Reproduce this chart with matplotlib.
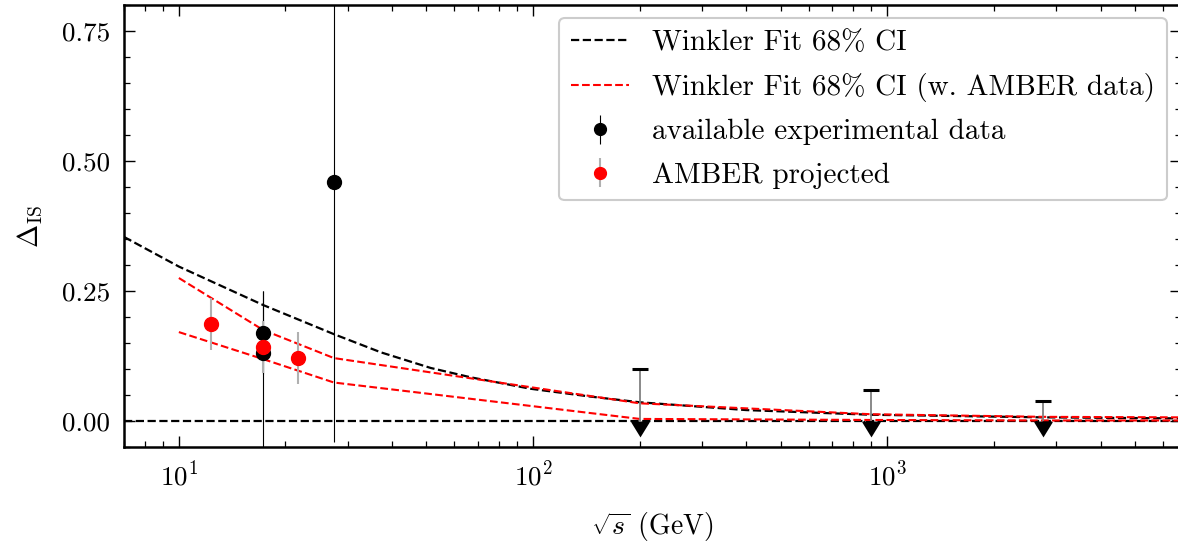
import numpy as np
import matplotlib
matplotlib.use('Agg')
import matplotlib.pyplot as plt
from matplotlib.ticker import MultipleLocator, LogLocator, NullFormatter

plt.rcParams['font.family'] = ['cmr10', 'DejaVu Serif']
plt.rcParams['mathtext.fontset'] = 'cm'
plt.rcParams['axes.formatter.use_mathtext'] = True
plt.rcParams['axes.unicode_minus'] = False

# Winkler fit 68% CI (existing data)
fit_x = [7, 10, 17.3, 27.4, 37.2, 51.4, 66.7, 98.4, 145, 200, 400, 900, 2760, 6750]
fit_hi = [0.354, 0.297, 0.223, 0.167, 0.132, 0.102, 0.084, 0.062, 0.047, 0.036,
          0.021, 0.012, 0.007, 0.005]
fit_lo = [0, 0, 0, 0, 0, 0, 0, 0, 0, 0, 0, 0, 0, 0]

# Winkler fit 68% CI with AMBER data
amb_fit_x = [10, 17.3, 27.4, 200, 900, 2760, 6750]
amb_fit_hi = [0.275, 0.175, 0.121, 0.034, 0.013, 0.008, 0.007]
amb_fit_lo = [0.171, 0.119, 0.074, 0.004, 0.002, 0.001, 0.001]

# available experimental data
exp_x = [17.3, 17.3, 27.4]
exp_y = [0.17, 0.13, 0.459]
exp_err_lo = [0.08, 0.25, 0.50]
exp_err_hi = [0.08, 0.12, 0.50]

# upper limits
lim_x = [200, 900, 2760]
lim_val = [0.10, 0.06, 0.038]

# AMBER projected
amber_x = [12.3, 17.3, 21.7]
amber_y = [0.187, 0.143, 0.121]
amber_err = [0.05, 0.05, 0.05]


def main():
    fig = plt.figure(figsize=(11.78, 5.44), dpi=100)
    ax = fig.add_axes([124 / 1178, 97 / 544, 1057 / 1178, 442 / 544])

    ax.plot(fit_x, fit_hi, '--', color='k', lw=1.6, label='Winkler Fit 68% CI')
    ax.plot(fit_x, fit_lo, '--', color='k', lw=1.6)
    ax.plot(amb_fit_x, amb_fit_hi, '--', color='red', lw=1.5,
            label='Winkler Fit 68% CI (w. AMBER data)')
    ax.plot(amb_fit_x, amb_fit_lo, '--', color='red', lw=1.5)

    ax.errorbar(exp_x, exp_y, yerr=[exp_err_lo, exp_err_hi], fmt='o', color='k',
                ecolor='k', elinewidth=0.8, ms=10, label='available experimental data')

    # upper limits: bar from 0 to the limit, caret at 0, cap at the limit
    ul = ax.errorbar(lim_x, lim_val, yerr=lim_val, uplims=True, fmt='none',
                     ecolor='grey', elinewidth=1.3, capsize=6, capthick=2.2)
    for cap in ul[1]:
        cap.set_color('k')
        cap.set_markeredgecolor('k')
        cap.set_markerfacecolor('k')

    ax.errorbar(amber_x, amber_y, yerr=amber_err, fmt='o', color='red',
                ecolor='#b0b0b0', elinewidth=1.5, ms=10, label='AMBER projected')

    ax.set_xscale('log')
    ax.set_xlim(7, 6750)
    ax.set_ylim(-0.05, 0.80)
    ax.yaxis.set_major_locator(MultipleLocator(0.25))
    ax.yaxis.set_minor_locator(MultipleLocator(0.05))
    ax.yaxis.set_major_formatter(plt.FormatStrFormatter('%.2f'))
    ax.xaxis.set_minor_locator(LogLocator(base=10, subs=np.arange(2, 10)))
    ax.xaxis.set_minor_formatter(NullFormatter())

    ax.tick_params(which='both', direction='in', top=True, right=True, labelsize=19.5)
    ax.tick_params(which='major', length=8, width=1.0, pad=10)
    ax.tick_params(which='minor', length=4.5, width=0.9)
    for s in ax.spines.values():
        s.set_linewidth(1.8)

    ax.set_xlabel(r'$\sqrt{s}$ (GeV)', fontsize=20, labelpad=14)
    ax.set_ylabel(r'$\Delta_{\rm IS}$', fontsize=20, labelpad=12)

    leg = ax.legend(loc='upper right', bbox_to_anchor=(0.9868, 0.9706), borderaxespad=0,
                    fontsize=21, labelspacing=0.58, markerscale=0.85, fancybox=True,
                    framealpha=1.0, edgecolor='#cccccc')
    leg.get_frame().set_linewidth(1.5)

    fig.savefig('out.png', dpi=100)


if __name__ == '__main__':
    main()
